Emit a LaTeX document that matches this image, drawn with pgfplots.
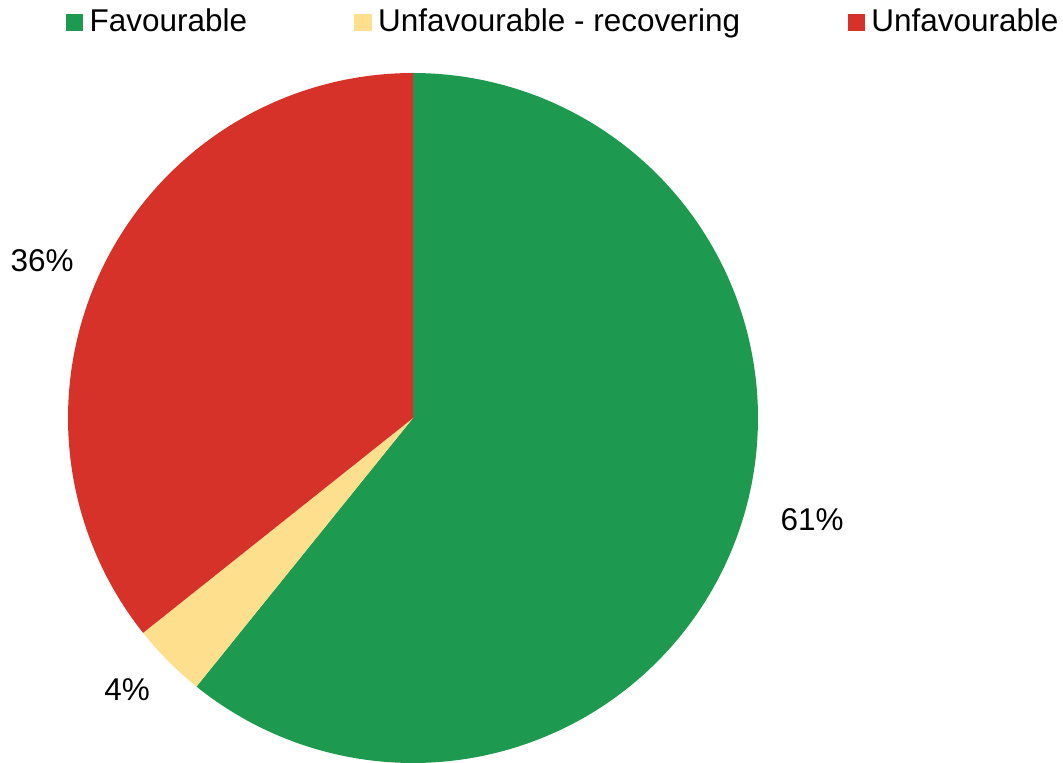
\documentclass[border=0pt]{standalone}
\usepackage{pgfplots}
\pgfplotsset{compat=1.18}
\usepackage{fontspec}
\setmainfont{Liberation Sans}
\definecolor{cgreen}{RGB}{30,154,80}
\definecolor{cyellow}{RGB}{253,223,142}
\definecolor{cred}{RGB}{215,50,41}
% slice values (percent)
\def\vA{60.8}% Favourable
\def\vB{3.5}%  Unfavourable - recovering
\def\vC{35.7}% Unfavourable
\pgfmathsetmacro\aZero{90}
\pgfmathsetmacro\aOne{90-3.6*\vA}
\pgfmathsetmacro\aTwo{\aOne-3.6*\vB}
\pgfmathsetmacro\aThree{\aTwo-3.6*\vC}
\def\cx{413}\def\cy{344}\def\rr{345}
\begin{document}
\fontsize{23.6}{28}\selectfont
\begin{tikzpicture}
\begin{axis}[hide axis, scale only axis, width=797.25pt, height=571.5pt,
  xmin=0, xmax=1063, ymin=0, ymax=762, clip=false,
  legend columns=3,
  legend image code/.code={\fill[#1] (0pt,-6.5pt) rectangle (13pt,6.5pt);},
  legend style={at={(axis cs:66,739.5)}, anchor=west, draw=none, fill=none,
    inner sep=0pt, outer sep=0pt, font=\fontsize{23.6}{28}\selectfont,
    cells={anchor=west}, nodes={inner sep=0pt},
    /tikz/every odd column/.append style={column sep=4.8pt},
    /tikz/every even column/.append style={column sep=80.5pt}},
]
\path (axis cs:0,0) rectangle (axis cs:1063,762);
\addplot[fill=cgreen, draw=none, domain=\aOne:\aZero, samples=240]
  ({\cx+\rr*cos(x)}, {\cy+\rr*sin(x)}) -- (axis cs:\cx,\cy) -- cycle;
\addlegendentry{Favourable}
\addplot[fill=cyellow, draw=none, domain=\aTwo:\aOne, samples=30]
  ({\cx+\rr*cos(x)}, {\cy+\rr*sin(x)}) -- (axis cs:\cx,\cy) -- cycle;
\addlegendentry{Unfavourable - recovering}
\addplot[fill=cred, draw=none, domain=\aThree:\aTwo, samples=160]
  ({\cx+\rr*cos(x)}, {\cy+\rr*sin(x)}) -- (axis cs:\cx,\cy) -- cycle;
\addlegendentry{Unfavourable}
\node at (axis cs:812,242) {61\%};
\node at (axis cs:42,501) {36\%};
\node at (axis cs:127,72) {4\%};
\end{axis}
\end{tikzpicture}
\end{document}
